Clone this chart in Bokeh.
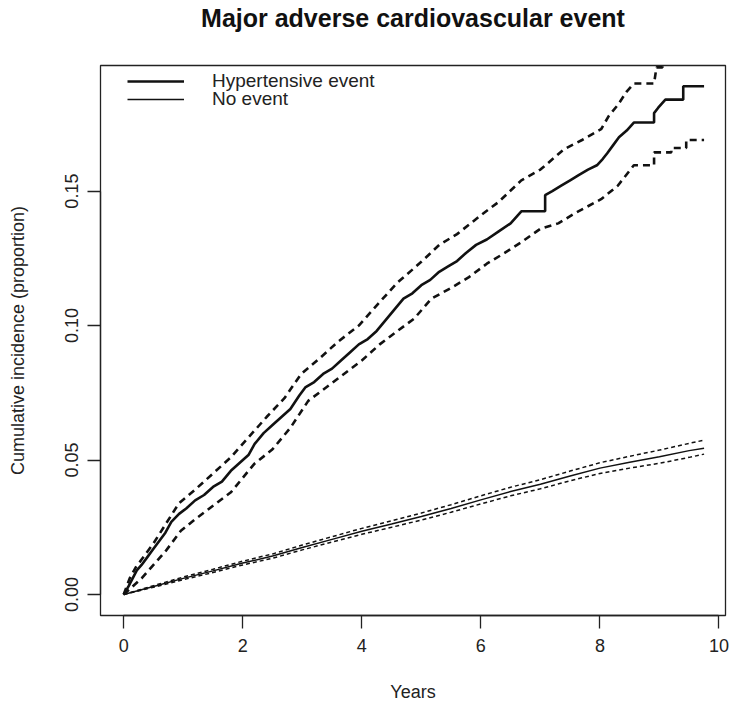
from bokeh.plotting import figure
from bokeh.models import Range1d, FixedTicker, Legend, LegendItem, LinearAxis
from bokeh.embed import file_html
from bokeh.resources import INLINE

title_text = "Major adverse cardiovascular event"
x_label = "Years"
y_label = "Cumulative incidence (proportion)"
legend_labels = ["Hypertensive event", "No event"]
x_ticks = [0, 2, 4, 6, 8, 10]
y_ticks = [0.0, 0.05, 0.10, 0.15]
y_tick_labels = ["0.00", "0.05", "0.10", "0.15"]

# Hypertensive event: cumulative incidence estimate
htn_time = [0, 0.08, 0.15, 0.22, 0.3, 0.4, 0.5, 0.6, 0.7, 0.8, 0.93, 1.05, 1.2, 1.35, 1.5,
            1.65, 1.8, 1.95, 2.1, 2.2, 2.35, 2.5, 2.65, 2.8, 2.95, 3.05, 3.2, 3.35, 3.5,
            3.65, 3.8, 3.95, 4.1, 4.25, 4.4, 4.55, 4.7, 4.85, 5.0, 5.15, 5.3, 5.45, 5.6,
            5.75, 5.92, 6.1, 6.3, 6.5, 6.68, 7.08, 7.08, 7.2, 7.35, 7.5, 7.65, 7.8, 7.95,
            8.05, 8.12, 8.22, 8.32, 8.45, 8.57, 8.91, 8.91, 8.98, 9.1, 9.4, 9.4, 9.75]
htn_est = [0, 0.003, 0.006, 0.009, 0.011, 0.014, 0.017, 0.020, 0.023, 0.027, 0.030, 0.032,
           0.035, 0.037, 0.040, 0.042, 0.046, 0.049, 0.052, 0.056, 0.060, 0.063, 0.066,
           0.069, 0.074, 0.077, 0.079, 0.082, 0.084, 0.087, 0.090, 0.093, 0.095, 0.098,
           0.102, 0.106, 0.110, 0.112, 0.115, 0.117, 0.120, 0.122, 0.124, 0.127, 0.130,
           0.132, 0.135, 0.138, 0.1425, 0.1425, 0.1485, 0.150, 0.152, 0.154, 0.156, 0.158,
           0.1596, 0.162, 0.164, 0.167, 0.170, 0.1725, 0.1755, 0.1755, 0.179, 0.181, 0.184,
           0.184, 0.189, 0.189]

htn_up_time = [0, 0.1, 0.2, 0.3, 0.5, 0.7, 0.93, 1.2, 1.5, 1.8, 2.08, 2.4, 2.7, 2.98, 3.3,
               3.6, 3.95, 4.27, 4.6, 5.0, 5.3, 5.6, 6.0, 6.3, 6.68, 7.0, 7.4, 7.7, 8.02, 8.15,
               8.3, 8.45, 8.57, 8.91, 8.95, 9.05, 9.05, 9.75]
htn_up = [0, 0.006, 0.010, 0.013, 0.019, 0.026, 0.034, 0.039, 0.045, 0.051, 0.058, 0.066,
          0.073, 0.082, 0.088, 0.094, 0.100, 0.108, 0.116, 0.1237, 0.130, 0.134, 0.141,
          0.146, 0.154, 0.158, 0.1656, 0.169, 0.173, 0.178, 0.182, 0.187, 0.190, 0.190,
          0.196, 0.196, 0.210, 0.210]

htn_lo_time = [0, 0.1, 0.2, 0.3, 0.5, 0.7, 0.96, 1.2, 1.5, 1.8, 2.19, 2.5, 2.8, 3.1, 3.4,
               3.7, 4.0, 4.3, 4.6, 4.88, 5.17, 5.5, 5.8, 6.1, 6.4, 6.68, 7.0, 7.3, 7.6, 8.02,
               8.3, 8.57, 8.91, 8.91, 9.2, 9.2, 9.45, 9.45, 9.75]
htn_lo = [0, 0.002, 0.004, 0.006, 0.011, 0.016, 0.0237, 0.028, 0.033, 0.038, 0.0485, 0.054,
          0.062, 0.072, 0.077, 0.082, 0.087, 0.093, 0.098, 0.1026, 0.110, 0.114, 0.118,
          0.123, 0.127, 0.131, 0.136, 0.138, 0.142, 0.147, 0.152, 0.1596, 0.1596, 0.1644,
          0.1644, 0.166, 0.166, 0.169, 0.169]

# No event
ne_time = [0, 0.5, 1, 1.5, 2, 2.5, 3, 3.5, 4, 4.5, 5, 5.5, 6, 6.5, 7, 7.5, 8, 8.5, 9, 9.5, 9.75]
ne_est = [0, 0.0030, 0.0060, 0.0088, 0.0117, 0.0143, 0.0175, 0.0205, 0.0235, 0.0262, 0.0290,
          0.0320, 0.0352, 0.0383, 0.0410, 0.0441, 0.0470, 0.0492, 0.0512, 0.0535, 0.0544]
ne_up = [0, 0.0033, 0.0065, 0.0094, 0.0124, 0.0151, 0.0184, 0.0215, 0.0246, 0.0274, 0.0303,
         0.0334, 0.0367, 0.0399, 0.0427, 0.0459, 0.0490, 0.0514, 0.0537, 0.0562, 0.0574]
ne_lo = [0, 0.0027, 0.0055, 0.0082, 0.0110, 0.0135, 0.0166, 0.0195, 0.0224, 0.0250, 0.0277,
         0.0306, 0.0337, 0.0367, 0.0393, 0.0423, 0.0450, 0.0470, 0.0488, 0.0510, 0.0522]

FONT = "Liberation Sans"

p = figure(width=730, height=713, output_backend="svg", toolbar_location=None,
           x_range=Range1d(-0.39, 10.11), y_range=Range1d(-0.0078, 0.1967),
           min_border_left=100, min_border_right=5, min_border_top=63, min_border_bottom=98)

p.xgrid.visible = False
p.ygrid.visible = False
p.outline_line_color = "#222222"
p.outline_line_width = 1.3
p.background_fill_color = "white"
p.border_fill_color = "white"

for ax in (p.xaxis[0], p.yaxis[0]):
    ax.axis_line_color = "#222222"
    ax.axis_line_width = 1.3
    ax.major_tick_line_color = "#222222"
    ax.major_tick_line_width = 1.3
    ax.major_tick_out = 13
    ax.major_tick_in = 0
    ax.minor_tick_line_color = None
    ax.major_label_text_font = FONT
    ax.major_label_text_font_size = "18px"
    ax.major_label_text_color = "#222222"
    ax.axis_label_text_font = FONT
    ax.axis_label_text_font_size = "18px"
    ax.axis_label_text_font_style = "normal"
    ax.axis_label_text_color = "#222222"

p.xaxis.ticker = FixedTicker(ticks=x_ticks)
p.yaxis.ticker = FixedTicker(ticks=y_ticks)
p.yaxis.major_label_overrides = {t: l for t, l in zip(y_ticks, y_tick_labels)}
p.xaxis.bounds = (x_ticks[0], x_ticks[-1])
p.yaxis.bounds = (y_ticks[0], y_ticks[-1])
p.yaxis.major_label_orientation = "vertical"
p.xaxis.axis_label = x_label
p.yaxis.axis_label = y_label
p.xaxis.major_label_standoff = 10
p.xaxis.axis_label_standoff = 27
p.yaxis.major_label_standoff = 9
p.yaxis.axis_label_standoff = 35

# main title: drawn as the label of a tick-less axis above the frame
title_axis = LinearAxis(axis_label=title_text, ticker=FixedTicker(ticks=[]),
                        axis_line_color=None, major_tick_line_color=None,
                        minor_tick_line_color=None, major_tick_out=0, major_tick_in=0,
                        major_label_standoff=0, major_label_text_font_size="0px",
                        axis_label_standoff=34, axis_label_text_font=FONT,
                        axis_label_text_font_size="25px", axis_label_text_font_style="bold",
                        axis_label_text_color="#111111")
p.add_layout(title_axis, "above")

col = "#111111"
r_htn = p.line(htn_time, htn_est, line_color=col, line_width=2.6)
p.line(htn_up_time, htn_up, line_color=col, line_width=2.6, line_dash="7 5")
p.line(htn_lo_time, htn_lo, line_color=col, line_width=2.6, line_dash="7 5")

r_ne = p.line(ne_time, ne_est, line_color=col, line_width=1.5)
p.line(ne_time, ne_up, line_color=col, line_width=1.5, line_dash="4 3")
p.line(ne_time, ne_lo, line_color=col, line_width=1.5, line_dash="4 3")

renderers = [r_htn, r_ne]
for i, (lab, rr) in enumerate(zip(legend_labels, renderers)):
    lg = Legend(items=[LegendItem(label=lab, renderers=[rr])],
                location=(27, 523 - 18 * i), orientation="vertical",
                glyph_width=57, glyph_height=18, label_height=18, label_standoff=28,
                padding=0, margin=0, spacing=0,
                border_line_alpha=0, background_fill_alpha=0,
                label_text_font=FONT, label_text_font_size="19px",
                label_text_color="#222222", label_text_baseline="middle")
    p.add_layout(lg, "center")

open("out.html", "w").write(file_html(p, INLINE))
